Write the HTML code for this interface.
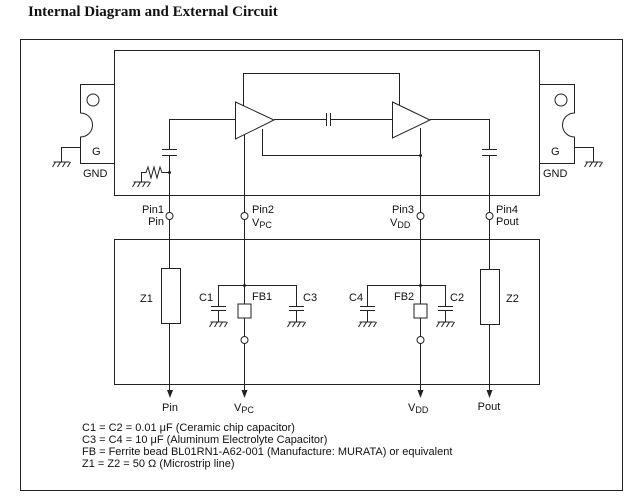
<!DOCTYPE html>
<html><head><style>
body{margin:0;background:#fff;width:641px;height:497px;overflow:hidden}
svg text{font-family:"Liberation Sans",sans-serif;font-size:11px;fill:#111}
</style></head><body>
<svg width="641" height="497" viewBox="0 0 641 497" xmlns="http://www.w3.org/2000/svg">
<defs>
<g id="gnd"><line x1="-8" y1="0" x2="8" y2="0" stroke="#222"/><line x1="-6" y1="0" x2="-9" y2="5" stroke="#222"/><line x1="-1" y1="0" x2="-4" y2="5" stroke="#222"/><line x1="4" y1="0" x2="1" y2="5" stroke="#222"/><line x1="9" y1="0" x2="6" y2="5" stroke="#222"/></g>
<path id="arw" d="M-3,0 L3,0 L0,8z" fill="#222"/>
</defs>
<text x="28" y="16" style="font-family:'Liberation Serif',serif;font-weight:bold;font-size:15px">Internal Diagram and External Circuit</text>
<g fill="none" stroke="#222" stroke-width="1">
<rect x="20.5" y="39.5" width="602" height="451"/>
<rect x="114.5" y="50.5" width="425" height="145"/>
<rect x="114.5" y="239.5" width="425" height="145"/>
<path d="M114.5,84.5 H80.5 V113 A12,12 0 0 1 80.5,137 V163.5 H114.5"/>
<circle cx="93" cy="100" r="6"/>
<path d="M80.5,147.5 H61.5 V162"/>
<path d="M539.5,84.5 H574.5 V113 A12,12 0 0 0 574.5,137 V163.5 H539.5"/>
<circle cx="561" cy="100" r="6"/>
<path d="M574.5,147.5 H593.5 V162"/>
<path d="M235.5,102 L274,120 L235.5,139 Z"/>
<path d="M392.5,102 L430,120 L392.5,138 Z"/>
<path d="M243.5,106 V73.5 H399.5 V105"/>
<path d="M274,119.5 H326.5 M330.5,119.5 H392"/>
<path d="M326.5,113 V126 M330.5,113 V126"/>
<path d="M430,119.5 H489.5 V149.5 M489.5,155.5 V390"/>
<path d="M482,149.5 H497 M482,155.5 H497"/>
<path d="M262.5,129 V155.5 H420.5"/>
<path d="M420.5,128 V390"/>
<path d="M244.5,135 V390"/>
<path d="M235,119.5 H169.5 V149.5 M169.5,155.5 V390"/>
<path d="M162,149.5 H177 M162,155.5 H177"/>
<path d="M169,172.5 H162 L160,167 L157,178 L154,167 L151,178 L148,167 L146,172.5 H141.5 V182"/>
<rect x="161.5" y="268.5" width="19" height="55" fill="#fff"/>
<rect x="480.5" y="269.5" width="19" height="55" fill="#fff"/>
<path d="M218.5,306 V285.5 H296.5 V306"/>
<path d="M367.5,306 V285.5 H445.5 V306"/>
<path d="M211,306.5 H226 M211,310.5 H226 M218.5,310.5 V322"/>
<path d="M289,306.5 H304 M289,310.5 H304 M296.5,310.5 V322"/>
<path d="M360,306.5 H375 M360,310.5 H375 M367.5,310.5 V322"/>
<path d="M438,306.5 H453 M438,310.5 H453 M445.5,310.5 V322"/>
<rect x="238" y="304" width="13" height="14" fill="#fff"/>
<rect x="414" y="304" width="13" height="14" fill="#fff"/>
</g>
<use href="#arw" x="170" y="390"/><use href="#arw" x="244.5" y="390"/><use href="#arw" x="420.5" y="390"/><use href="#arw" x="489.5" y="390"/>
<g fill="#fff" stroke="#222">
<circle cx="169.5" cy="216" r="3.5"/><circle cx="244.5" cy="216" r="3.5"/>
<circle cx="420.5" cy="216" r="3.5"/><circle cx="489.5" cy="216" r="3.5"/>
<circle cx="244.5" cy="340" r="3.5"/><circle cx="420.5" cy="340" r="3.5"/>
</g>
<g fill="#222"><circle cx="169.5" cy="172.5" r="1.5"/><circle cx="420.5" cy="155.5" r="1.5"/><circle cx="244.5" cy="285.5" r="1.5"/><circle cx="420.5" cy="285.5" r="1.5"/></g>
<use href="#gnd" x="61.5" y="162"/><use href="#gnd" x="141.5" y="182"/><use href="#gnd" x="593.5" y="162"/>
<use href="#gnd" x="218.5" y="322"/><use href="#gnd" x="296.5" y="322"/><use href="#gnd" x="367.5" y="322"/><use href="#gnd" x="445.5" y="322"/>
<text x="92" y="155">G</text><text x="83" y="177">GND</text>
<text x="551" y="155">G</text><text x="543" y="177">GND</text>
<text x="164" y="213" text-anchor="end">Pin1</text><text x="164" y="225" text-anchor="end">Pin</text>
<text x="252" y="213">Pin2</text><text x="252" y="226">V<tspan font-size="9" dy="2">PC</tspan></text>
<text x="414" y="213" text-anchor="end">Pin3</text><text x="390" y="226">V<tspan font-size="9" dy="2">DD</tspan></text>
<text x="496" y="213">Pin4</text><text x="496" y="225">Pout</text>
<text x="140" y="302">Z1</text><text x="199" y="301">C1</text><text x="252" y="300">FB1</text><text x="303" y="301">C3</text>
<text x="349" y="301">C4</text><text x="394" y="300">FB2</text><text x="450" y="301">C2</text><text x="506" y="302">Z2</text>
<text x="170" y="411" text-anchor="middle">Pin</text>
<text x="234" y="411">V<tspan font-size="9" dy="2">PC</tspan></text>
<text x="408" y="411">V<tspan font-size="9" dy="2">DD</tspan></text>
<text x="489" y="410" text-anchor="middle">Pout</text>
<text x="82" y="431">C1 = C2 = 0.01 μF (Ceramic chip capacitor)</text>
<text x="82" y="443">C3 = C4 = 10 μF (Aluminum Electrolyte Capacitor)</text>
<text x="82" y="455">FB = Ferrite bead BL01RN1-A62-001 (Manufacture: MURATA) or equivalent</text>
<text x="82" y="467">Z1 = Z2 = 50 Ω (Microstrip line)</text>
</svg>
</body></html>
